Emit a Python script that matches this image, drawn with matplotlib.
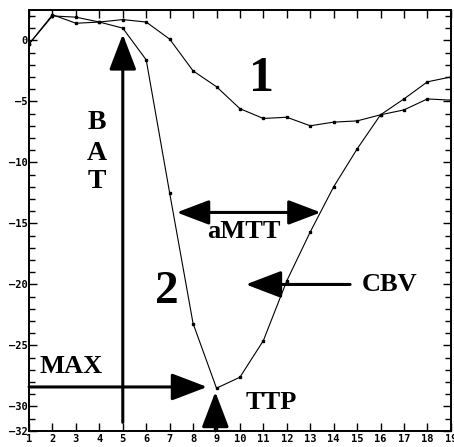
import numpy as np
import matplotlib.pyplot as plt

# ---------- data ----------
frames = list(range(1, 20))
curve1 = [-0.3, 2.0, 1.9, 1.5, 1.7, 1.5, 0.1, -2.5, -3.8, -5.6,
          -6.4, -6.3, -7.0, -6.7, -6.6, -6.1, -5.7, -4.8, -4.9]
curve2 = [-0.3, 2.1, 1.4, 1.5, 1.0, -1.6, -12.5, -23.2, -28.5, -27.6,
          -24.6, -19.7, -15.7, -12.0, -8.9, -6.1, -4.8, -3.4, -3.0]
ytick_vals = [0, -5, -10, -15, -20, -25, -30, -32]

serif = ['Liberation Serif', 'DejaVu Serif']

fig = plt.figure(figsize=(4.54, 4.47), dpi=100)
ax = fig.add_axes([0.064, 0.036, 0.929, 0.942])

ax.plot(frames, curve1, color='black', lw=0.8, marker='s', ms=1.8)
ax.plot(frames, curve2, color='black', lw=0.8, marker='s', ms=1.8)

ax.set_xlim(1, 19)
ax.set_ylim(-32, 2.5)
ax.set_xticks(frames)
ax.set_yticks(ytick_vals)
ax.set_yticks(np.arange(-32, 3, 1), minor=True)
ax.tick_params(axis='both', which='both', direction='in', top=True, right=True,
               labelsize=7.5, width=1.0, pad=1.0)
ax.tick_params(axis='y', which='major', length=6, labelright=False)
ax.tick_params(axis='y', which='minor', length=4)
ax.tick_params(axis='x', which='major', length=6, pad=2.5)
ax.set_yticklabels([str(v).replace('-', '\u2012') for v in ytick_vals])
for lab in ax.get_xticklabels() + ax.get_yticklabels():
    lab.set_fontweight('bold')
    lab.set_family('DejaVu Sans Mono')
for s in ax.spines.values():
    s.set_linewidth(1.4)

# ---------- arrows ----------
single = dict(arrowstyle='-|>,head_length=1.1,head_width=0.42', lw=2.2,
              color='black', mutation_scale=20, shrinkA=0, shrinkB=0)
double = dict(arrowstyle='<|-|>,head_length=1.0,head_width=0.38', lw=2.2,
              color='black', mutation_scale=20, shrinkA=0, shrinkB=0)

ax.annotate('', xy=(5, 0.5), xytext=(5, -31.3), arrowprops=single)   # BAT
ax.annotate('', xy=(8.6, -28.4), xytext=(1, -28.4), arrowprops=single)  # MAX
ax.annotate('', xy=(8.95, -28.8), xytext=(8.95, -32), arrowprops=single)  # TTP
ax.annotate('', xy=(10.25, -20.0), xytext=(14.7, -20.0), arrowprops=single)  # CBV
ax.annotate('', xy=(7.3, -14.1), xytext=(13.45, -14.1), arrowprops=double)  # aMTT

# ---------- labels ----------
big = dict(family=serif, weight='bold', color='black', ha='center', va='center')
ax.text(10.9, -3.2, '1', fontsize=36, **big)
ax.text(6.9, -20.6, '2', fontsize=34, **big)
for ch, yy in zip('BAT', [-6.7, -9.3, -11.6]):
    ax.text(3.9, yy, ch, fontsize=20, **big)
ax.text(10.15, -15.7, 'aMTT', fontsize=19, **big)
ax.text(15.2, -20.0, 'CBV', fontsize=19, family=serif, weight='bold', ha='left', va='center')
ax.text(1.45, -26.7, 'MAX', fontsize=19, family=serif, weight='bold', ha='left', va='center')
ax.text(10.25, -29.7, 'TTP', fontsize=19, family=serif, weight='bold', ha='left', va='center')

fig.savefig('out.png', dpi=100)
